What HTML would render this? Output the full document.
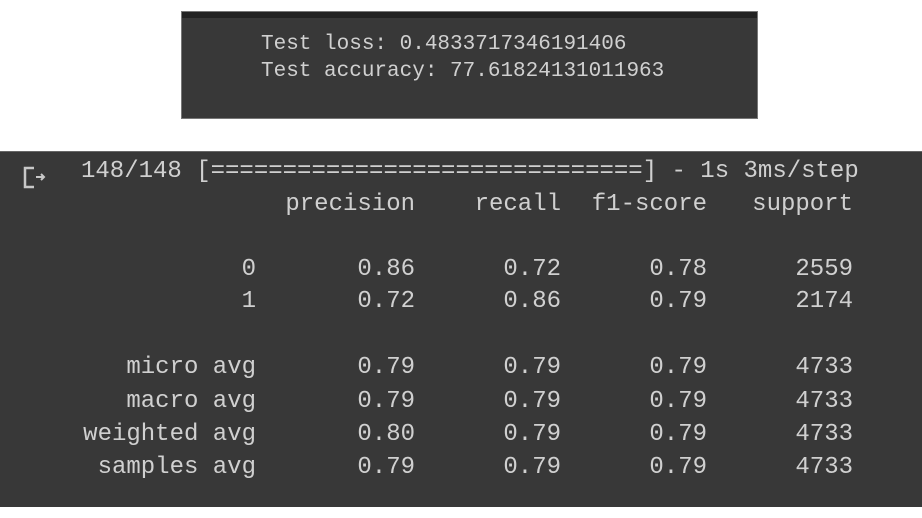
<!DOCTYPE html>
<html><head><meta charset="utf-8"><style>
html,body{margin:0;padding:0;background:#fff;width:922px;height:518px;overflow:hidden;position:relative;font-family:"Liberation Mono",monospace;}
.box{position:absolute;background:#383838;}
.t{position:absolute;white-space:pre;color:#d0d0d0;line-height:1;}
.top .t{font-size:21px;}
.bot .t{font-size:24px;}
.r{text-align:right;}
</style></head><body>
<div class="box top" style="left:181px;top:11px;width:577px;height:108px;border:1px solid #777;box-sizing:border-box;">
  <div style="position:absolute;left:0;top:0;right:0;height:6px;background:#222;"></div>
  <div class="t" style="left:79px;top:22px;">Test loss: 0.4833717346191406</div>
  <div class="t" style="left:79px;top:49px;">Test accuracy: 77.61824131011963</div>
</div>
<div class="box bot" style="left:0;top:151px;width:922px;height:356px;border-top:1px solid #666;box-sizing:border-box;">
  <svg style="position:absolute;left:22px;top:13px" width="28" height="26" viewBox="0 0 28 26"><path d="M12 3H3v19h9" fill="none" stroke="#c8c8c8" stroke-width="2.5"/><path d="M14 12h8M19 9l3 3-3 3" fill="none" stroke="#c8c8c8" stroke-width="2"/></svg>
  <div class="t" style="left:81px;top:8px;">148/148 [==============================] - 1s 3ms/step</div>
  <div id="rows"></div>
</div>
<script>
const labels=["","0","1","","micro avg","macro avg","weighted avg","samples avg"];
const headers=["precision","recall","f1-score","support"];
const precision=[null,"0.86","0.72",null,"0.79","0.79","0.80","0.79"];
const recall=[null,"0.72","0.86",null,"0.79","0.79","0.79","0.79"];
const f1=[null,"0.78","0.79",null,"0.79","0.79","0.79","0.79"];
const support=[null,"2559","2174",null,"4733","4733","4733","4733"];
const rowsEl=document.getElementById('rows');
const colRight=[415,561,707,853];
const rowTop=[41,106,138,0,204,238,271,304];
function add(text,right,top,name){
  const d=document.createElement('div');
  d.className='t r';
  
  
  d.textContent=text;
  d.style.right=(922-right)+'px';
  d.style.top=top+'px';
  rowsEl.parentNode.appendChild(d);
}
headers.forEach((h,i)=>add(h,colRight[i],rowTop[0],'header-'+h));
const cols=[precision,recall,f1,support];
for(let r=1;r<labels.length;r++){
  if(!labels[r])continue;
  add(labels[r],256,rowTop[r],'row-label-'+labels[r].replace(' ','-'));
  cols.forEach((c,i)=>add(c[r],colRight[i],rowTop[r],'cell-'+headers[i]+'-'+r));
}
</script>
</body></html>
